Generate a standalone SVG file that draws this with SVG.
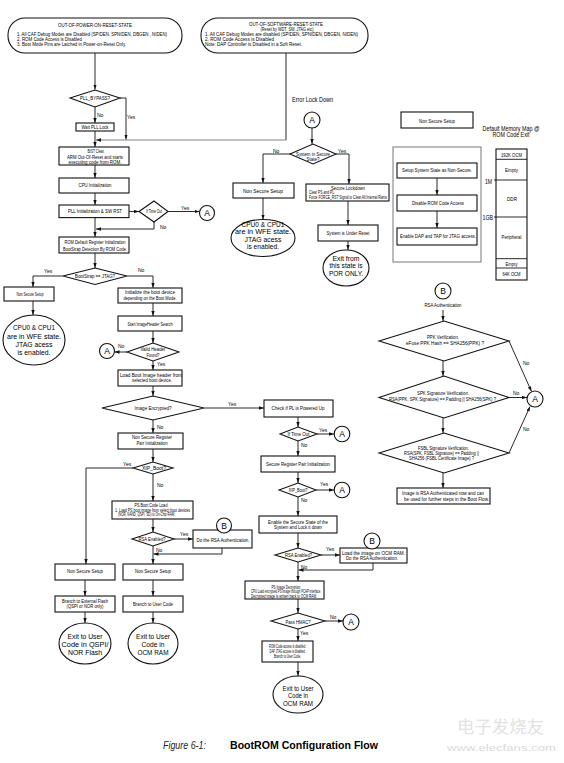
<svg xmlns="http://www.w3.org/2000/svg" width="564" height="763" viewBox="0 0 564 763">
<style>
.bx{fill:#fff;stroke:#111;stroke-width:1.1}
.gx{fill:none;stroke:#777;stroke-width:1}
.ln{fill:none;stroke:#111;stroke-width:0.9;marker-end:url(#ah)}
.pl{fill:none;stroke:#111;stroke-width:0.9}
text{font-family:"Liberation Sans",Arial,sans-serif;fill:#000}
.s{font-size:5px}
.xs{font-size:4.5px}
.m{font-size:5px;text-anchor:middle}
.mx{font-size:4.5px;text-anchor:middle}
.big{font-size:6.8px;text-anchor:middle}
.c{font-size:8.5px;text-anchor:middle}
.mm{font-size:6.5px;text-anchor:middle}
.wm1{font-family:"Noto Sans CJK SC",sans-serif;font-size:17px;fill:#e2e2e2}
.wm2{font-size:9px;fill:#dadada}
.cap1{font-size:10px;font-style:italic;fill:#222}
.cap2{font-size:10.5px;font-weight:bold}
</style>
<defs>
<marker id="ah" viewBox="0 0 6 4" refX="6" refY="2" markerWidth="5" markerHeight="3.6" orient="auto" markerUnits="userSpaceOnUse"><path d="M0,0 L6,2 L0,4 z" fill="#111"/></marker>
</defs>
<rect width="564" height="763" fill="#fff"/>

<g id="connectors">
<path class="ln" d="M95,53 V89.5"/>
<path class="ln" d="M95,107 V123"/>
<path class="ln" d="M95,131 V147"/>
<path class="ln" d="M120,98 H126 V139.5"/>
<path class="pl" d="M286,53 V140"/>
<path class="ln" style="stroke:#777" d="M286,140 H96"/>
<path class="ln" d="M95,165 V178"/>
<path class="ln" d="M95,193 V205"/>
<path class="ln" d="M129,211.5 H139"/>
<path class="ln" d="M168,211.5 H199.5"/>
<path class="ln" d="M154,222 V229 H96"/>
<path class="ln" d="M95,217.6 V237"/>
<path class="ln" d="M95,253 V268"/>
<path class="ln" d="M63,276 H33 V287"/>
<path class="ln" d="M127,276 H153 V288"/>
<path class="ln" d="M33,301 V315"/>
<path class="ln" d="M153,303 V316"/>
<path class="ln" d="M153,331 V343"/>
<path class="ln" d="M127,352 H114.5"/>
<path class="ln" d="M153,361 V370"/>
<path class="ln" d="M153,386 V396"/>
<path class="ln" d="M204,408 H264"/>
<path class="ln" d="M153,420 V433"/>
<path class="ln" d="M153,449 V462"/>
<path class="ln" d="M133,468 H86 V564"/>
<path class="ln" d="M153,474 V501"/>
<path class="ln" d="M153,519 V532"/>
<path class="ln" d="M174,539 H193"/>
<path class="ln" d="M222,548 V554 H153.5"/>
<path class="ln" d="M153,546 V564"/>
<path class="ln" d="M85,580 V596"/>
<path class="ln" d="M153,580 V596"/>
<path class="ln" d="M85,612 V623"/>
<path class="ln" d="M153,612 V623"/>
<path class="ln" d="M312,128 V144"/>
<path class="ln" d="M290,154 H263 V183"/>
<path class="ln" d="M336,154 H349 V184"/>
<path class="ln" d="M263,198 V219.7"/>
<path class="ln" d="M348,201 V225"/>
<path class="ln" d="M348,241 V250"/>
<path class="ln" d="M298,417 V427"/>
<path class="ln" d="M317,434 H334"/>
<path class="ln" d="M298,441 V456"/>
<path class="ln" d="M298,472 V483"/>
<path class="ln" d="M316,490 H334"/>
<path class="ln" d="M298,497 V516"/>
<path class="ln" d="M298,533 V548"/>
<path class="ln" d="M321,555 H340"/>
<path class="ln" d="M373,563 V570 H298.5"/>
<path class="ln" d="M298,562 V581"/>
<path class="ln" d="M298,599 V613"/>
<path class="ln" d="M325,621 H343"/>
<path class="ln" d="M298,629 V641"/>
<path class="ln" d="M298,662 V676"/>
<path class="ln" d="M437,178 V195"/>
<path class="ln" d="M437,211 V228"/>
<path class="ln" d="M443,310 V321"/>
<path class="ln" d="M443,361 V376"/>
<path class="ln" d="M509,341 L531.5,391.5"/>
<path class="ln" d="M509,397.5 H527"/>
<path class="ln" d="M443,418 V433"/>
<path class="ln" d="M509,453 L530,406.5"/>
<path class="ln" d="M443,473 V488"/>
</g>

<g id="labels">
<text class="s" x="97" y="117">No</text>
<text class="s" x="127" y="119">Yes</text>
<text class="s" x="181" y="210">Yes</text>
<text class="s" x="160" y="229">No</text>
<text class="s" x="44" y="273">Yes</text>
<text class="s" x="138" y="272">No</text>
<text class="s" x="118" y="348">No</text>
<text class="s" x="157" y="366">Yes</text>
<text class="s" x="228" y="406">Yes</text>
<text class="s" x="157" y="428.5">No</text>
<text class="s" x="123" y="466">Yes</text>
<text class="s" x="157" y="487">No</text>
<text class="s" x="180" y="536">Yes</text>
<text class="s" x="156" y="551.5">No</text>
<text class="s" x="273" y="152.5">No</text>
<text class="s" x="338" y="152.5">Yes</text>
<text class="s" x="319" y="432">Yes</text>
<text class="s" x="301" y="447">No</text>
<text class="s" x="320" y="486">Yes</text>
<text class="s" x="301" y="501.8">No</text>
<text class="s" x="326" y="551">Yes</text>
<text class="s" x="301" y="568.5">No</text>
<text class="s" x="330" y="619">No</text>
<text class="s" x="300" y="634.5">Yes</text>
<text class="s" x="523" y="365">No</text>
<text class="s" x="513" y="395">No</text>
<text class="s" x="523" y="431">No</text>
</g>

<g id="n-por">
<rect class="bx" x="8" y="18" width="174" height="35" rx="17"/>
<text class="m" x="95" y="27" textLength="74" lengthAdjust="spacingAndGlyphs">OUT-OF-POWER-ON-RESET-STATE</text>
<text class="s" x="17" y="36" textLength="150" lengthAdjust="spacingAndGlyphs">1. All CAF Debug Modes are Disabled (SPIDEN, SPNIDEN, DBGEN , NIDEN)</text>
<text class="s" x="17" y="40.8" textLength="65" lengthAdjust="spacingAndGlyphs">2. ROM Code Access is Disabled</text>
<text class="s" x="17" y="46" textLength="109" lengthAdjust="spacingAndGlyphs">3. Boot Mode Pins are Latched in Power-on-Reset Only.</text>
</g>
<g id="n-sr">
<rect class="bx" x="201" y="18" width="167" height="35" rx="17"/>
<text class="m" x="286" y="25.5" textLength="74" lengthAdjust="spacingAndGlyphs">OUT-OF-SOFTWARE-RESET-STATE</text>
<text class="m" x="287" y="31" textLength="53" lengthAdjust="spacingAndGlyphs">(Reset by WDT, SW, JTAG etc)</text>
<text class="s" x="205" y="36" textLength="153" lengthAdjust="spacingAndGlyphs">1. All CAF Debug Modes are disabled (SPIDEN, SPNIDEN, DBGEN, NIDEN)</text>
<text class="s" x="205" y="40.8" textLength="69" lengthAdjust="spacingAndGlyphs">2. ROM Code Access is Disabled</text>
<text class="s" x="205" y="46" textLength="97" lengthAdjust="spacingAndGlyphs">Note: DAP Controller is Disabled in a Soft Reset.</text>
</g>
<g id="n-pllbypass">
<polygon class="bx" points="70,98 95,90 120,98 95,107"/>
<text class="m" x="95" y="100" textLength="30" lengthAdjust="spacingAndGlyphs">PLL_BYPASS?</text>
</g>
<g id="n-wait">
<rect class="bx" x="76" y="123" width="38" height="8"/>
<text class="m" x="95" y="129" textLength="27" lengthAdjust="spacingAndGlyphs">Wait PLL Lock</text>
</g>
<g id="n-bist">
<rect class="bx" x="59" y="147" width="70" height="18"/>
<text class="m" x="96" y="153.2" textLength="17" lengthAdjust="spacingAndGlyphs">BIST Clear,</text>
<text class="m" x="95" y="158.7" textLength="56" lengthAdjust="spacingAndGlyphs">ARM Out-Of-Reset and starts</text>
<text class="m" x="95" y="164" textLength="53" lengthAdjust="spacingAndGlyphs">executing code from ROM.</text>
</g>
<g id="n-cpuinit">
<rect class="bx" x="59" y="178" width="70" height="15"/>
<text class="m" x="95" y="187" textLength="33" lengthAdjust="spacingAndGlyphs">CPU Initialization</text>
</g>
<g id="n-pllinit">
<rect class="bx" x="59" y="205" width="70" height="12.6"/>
<text class="m" x="95" y="213" textLength="54" lengthAdjust="spacingAndGlyphs">PLL Initialization &amp; SW RST</text>
</g>
<g id="n-timeout1">
<polygon class="bx" points="139,211.5 154,201 168,211.5 154,222"/>
<text class="m" x="154" y="213.3" textLength="16" lengthAdjust="spacingAndGlyphs">If Time Out</text>
</g>
<g id="n-a1">
<circle class="bx" cx="207" cy="213" r="7.5"/>
<text class="c" x="207" y="216">A</text>
</g>
<g id="n-romdef">
<rect class="bx" x="59" y="237" width="70" height="16"/>
<text class="m" x="95" y="244" textLength="61" lengthAdjust="spacingAndGlyphs">ROM Default Register Initialization</text>
<text class="m" x="95" y="250.5" textLength="64" lengthAdjust="spacingAndGlyphs">BootStrap Detection By ROM Code.</text>
</g>
<g id="n-bootstrap">
<polygon class="bx" points="63,276 95,268 127,276 95,284.5"/>
<text class="m" x="95" y="277.5" textLength="40" lengthAdjust="spacingAndGlyphs">BootStrap == JTAG?</text>
</g>
<g id="n-nss1">
<rect class="bx" x="4" y="287" width="50" height="14"/>
<text class="m" x="30" y="295.8" textLength="27" lengthAdjust="spacingAndGlyphs">Non Secure Setup</text>
</g>
<g id="n-wfe1">
<ellipse class="bx" cx="34" cy="340" rx="31" ry="25"/>
<text class="big" x="34" y="330" textLength="42" lengthAdjust="spacingAndGlyphs">CPU0 &amp; CPU1</text>
<text class="big" x="34" y="339" textLength="54" lengthAdjust="spacingAndGlyphs">are in WFE state.</text>
<text class="big" x="34" y="346.9" textLength="37" lengthAdjust="spacingAndGlyphs">JTAG acess</text>
<text class="big" x="34" y="354.5" textLength="33" lengthAdjust="spacingAndGlyphs">is enabled.</text>
</g>
<g id="n-init">
<rect class="bx" x="118" y="288" width="64" height="15"/>
<text class="m" x="150" y="293.5" textLength="50" lengthAdjust="spacingAndGlyphs">Initialize the boot device</text>
<text class="m" x="150" y="299.5" textLength="53" lengthAdjust="spacingAndGlyphs">depending on the Boot Mode.</text>
</g>
<g id="n-start">
<rect class="bx" x="118" y="316" width="64" height="15"/>
<text class="m" x="150" y="325.5" textLength="45" lengthAdjust="spacingAndGlyphs">Start ImageHeader Search</text>
</g>
<g id="n-valid">
<polygon class="bx" points="127,352 153,343 179,352 153,361"/>
<text class="m" x="153" y="350.5" textLength="25" lengthAdjust="spacingAndGlyphs">Valid Header</text>
<text class="m" x="153" y="356.5" textLength="13" lengthAdjust="spacingAndGlyphs">Found?</text>
</g>
<g id="n-a2">
<circle class="bx" cx="107" cy="351" r="7.5"/>
<text class="c" x="107" y="354">A</text>
</g>
<g id="n-loadhdr">
<rect class="bx" x="118" y="370" width="64" height="16"/>
<text class="m" x="151" y="376.5" textLength="62" lengthAdjust="spacingAndGlyphs">Load Boot Image header from</text>
<text class="m" x="152" y="382.3" textLength="40" lengthAdjust="spacingAndGlyphs">selected boot device.</text>
</g>
<g id="n-enc">
<polygon class="bx" points="102,408 153,396 204,408 153,420"/>
<text class="m" x="153" y="410" textLength="37" lengthAdjust="spacingAndGlyphs">Image Encrypted?</text>
</g>
<g id="n-nsreg">
<rect class="bx" x="118" y="433" width="65" height="16"/>
<text class="m" x="152" y="439.2" textLength="40" lengthAdjust="spacingAndGlyphs">Non Secure Register</text>
<text class="m" x="152" y="444.6" textLength="31" lengthAdjust="spacingAndGlyphs">Pair Initialization</text>
</g>
<g id="n-xip1">
<polygon class="bx" points="133,468 153,462 173,468 153,474"/>
<text class="m" x="154" y="470" textLength="24" lengthAdjust="spacingAndGlyphs">XIP_Boot?</text>
</g>
<g id="n-psload">
<rect class="bx" x="112" y="501" width="81" height="18"/>
<text class="m" x="151" y="506.5" textLength="33" lengthAdjust="spacingAndGlyphs">PS Boot Code Load</text>
<text class="xs" x="115" y="511.5" textLength="75" lengthAdjust="spacingAndGlyphs">1. Load PS boot image from select boot devices</text>
<text class="xs" x="118" y="516" textLength="57" lengthAdjust="spacingAndGlyphs">(NOR, NAND, QSPI, SD) to On-Chip RAM.</text>
</g>
<g id="n-rsa1">
<polygon class="bx" points="132,539 153,532 174,539 153,546"/>
<text class="m" x="152" y="541" textLength="27" lengthAdjust="spacingAndGlyphs">RSA Enabled?</text>
</g>
<g id="n-dorsa">
<rect class="bx" x="193" y="530" width="59" height="18"/>
<text class="m" x="223" y="541.5" textLength="53" lengthAdjust="spacingAndGlyphs">Do the RSA Authentication.</text>
</g>
<g id="n-b1">
<circle class="bx" cx="224" cy="525.5" r="7.5"/>
<text class="c" x="224" y="528.5">B</text>
</g>
<g id="n-nss2">
<rect class="bx" x="55" y="564" width="60" height="16"/>
<text class="m" x="85" y="572.5" textLength="36" lengthAdjust="spacingAndGlyphs">Non Secure Setup</text>
</g>
<g id="n-nss3">
<rect class="bx" x="123" y="564" width="60" height="16"/>
<text class="m" x="153" y="572.5" textLength="36" lengthAdjust="spacingAndGlyphs">Non Secure Setup</text>
</g>
<g id="n-brext">
<rect class="bx" x="55" y="596" width="60" height="16"/>
<text class="m" x="85" y="602.5" textLength="46" lengthAdjust="spacingAndGlyphs">Branch to External Flash</text>
<text class="m" x="85" y="608" textLength="37" lengthAdjust="spacingAndGlyphs">(QSPI or NOR only)</text>
</g>
<g id="n-bruser">
<rect class="bx" x="123" y="596" width="60" height="16"/>
<text class="m" x="153" y="605.5" textLength="40" lengthAdjust="spacingAndGlyphs">Branch to User Code</text>
</g>
<g id="n-exitqspi">
<ellipse class="bx" cx="85" cy="643.5" rx="26" ry="20.5"/>
<text class="big" x="85" y="638.7" textLength="35" lengthAdjust="spacingAndGlyphs">Exit to User</text>
<text class="big" x="85" y="647" textLength="47" lengthAdjust="spacingAndGlyphs">Code in QSPI/</text>
<text class="big" x="85" y="655.2" textLength="34" lengthAdjust="spacingAndGlyphs">NOR Flash</text>
</g>
<g id="n-exitocm1">
<ellipse class="bx" cx="153" cy="643.5" rx="25" ry="20.5"/>
<text class="big" x="153" y="638.7" textLength="34" lengthAdjust="spacingAndGlyphs">Exit to User</text>
<text class="big" x="153" y="647" textLength="23" lengthAdjust="spacingAndGlyphs">Code in</text>
<text class="big" x="153" y="655.2" textLength="31" lengthAdjust="spacingAndGlyphs">OCM RAM</text>
</g>

<g id="n-errtitle">
<text x="292" y="102" font-size="7" textLength="41" lengthAdjust="spacingAndGlyphs">Error Lock Down</text>
</g>
<g id="n-a3">
<circle class="bx" cx="312" cy="120" r="8"/>
<text class="c" x="312" y="123">A</text>
</g>
<g id="n-sis">
<polygon class="bx" points="290,154 313,144 336,154 313,164"/>
<text class="m" x="313" y="155.5" textLength="34" lengthAdjust="spacingAndGlyphs">System in Secure</text>
<text class="m" x="313" y="161" textLength="13" lengthAdjust="spacingAndGlyphs">State?</text>
</g>
<g id="n-nssmid">
<rect class="bx" x="233" y="183" width="61" height="15"/>
<text class="m" x="263" y="192.5" textLength="40" lengthAdjust="spacingAndGlyphs">Non Secure Setup</text>
</g>
<g id="n-wfe2">
<ellipse class="bx" cx="263" cy="238" rx="32" ry="18.5"/>
<text class="big" x="263" y="227" textLength="43" lengthAdjust="spacingAndGlyphs">CPU0 &amp; CPU1</text>
<text class="big" x="263" y="234.3" textLength="56" lengthAdjust="spacingAndGlyphs">are in WFE state.</text>
<text class="big" x="263" y="241.6" textLength="37" lengthAdjust="spacingAndGlyphs">JTAG acess</text>
<text class="big" x="263" y="248.9" textLength="32" lengthAdjust="spacingAndGlyphs">is enabled.</text>
</g>
<g id="n-seclock">
<rect class="bx" x="306" y="184" width="83" height="17"/>
<text class="m" x="348" y="190" textLength="34" lengthAdjust="spacingAndGlyphs">Secure Lockdown</text>
<text class="xs" x="309" y="194.3" textLength="26" lengthAdjust="spacingAndGlyphs">Clear PS and PL.</text>
<text class="xs" x="309" y="198.8" textLength="78" lengthAdjust="spacingAndGlyphs">Force FORCE_RST Signal to Clear All Internal Rams</text>
</g>
<g id="n-underreset">
<rect class="bx" x="318" y="225" width="60" height="16"/>
<text class="m" x="348" y="234.8" textLength="43" lengthAdjust="spacingAndGlyphs">System is Under Reset</text>
</g>
<g id="n-exitpor">
<ellipse class="bx" cx="346" cy="268" rx="23" ry="18"/>
<text class="big" x="346" y="261" textLength="27" lengthAdjust="spacingAndGlyphs">Exit from</text>
<text class="big" x="346" y="268.4" textLength="33" lengthAdjust="spacingAndGlyphs">this state is</text>
<text class="big" x="346" y="275.8" textLength="34" lengthAdjust="spacingAndGlyphs">POR ONLY.</text>
</g>
<g id="n-checkpl">
<rect class="bx" x="264" y="400" width="69" height="17"/>
<text class="m" x="298" y="410" textLength="53" lengthAdjust="spacingAndGlyphs">Check if PL is Powered Up</text>
</g>
<g id="n-timeout2">
<polygon class="bx" points="280,434 298,427 317,434 298,441"/>
<text class="m" x="298.5" y="436" textLength="22" lengthAdjust="spacingAndGlyphs">If Time Out</text>
</g>
<g id="n-a4">
<circle class="bx" cx="342" cy="434" r="7.8"/>
<text class="c" x="342" y="437">A</text>
</g>
<g id="n-secreg">
<rect class="bx" x="261" y="456" width="74" height="16"/>
<text class="m" x="298" y="466" textLength="64" lengthAdjust="spacingAndGlyphs">Secure Register Pair Initialization</text>
</g>
<g id="n-xip2">
<polygon class="bx" points="279,490 298,483 316,490 298,497"/>
<text class="m" x="298" y="492" textLength="19" lengthAdjust="spacingAndGlyphs">XIP_Boot?</text>
</g>
<g id="n-a5">
<circle class="bx" cx="342" cy="490" r="7.8"/>
<text class="c" x="342" y="493">A</text>
</g>
<g id="n-enable">
<rect class="bx" x="259" y="516" width="78" height="17"/>
<text class="m" x="298" y="523.8" textLength="60" lengthAdjust="spacingAndGlyphs">Enable the Secure State of the</text>
<text class="m" x="298" y="529.2" textLength="48" lengthAdjust="spacingAndGlyphs">System and Lock it down</text>
</g>
<g id="n-rsa2">
<polygon class="bx" points="275,555 298,548 321,555 298,562"/>
<text class="m" x="298.5" y="556.8" textLength="27" lengthAdjust="spacingAndGlyphs">RSA Enabled?</text>
</g>
<g id="n-loadocm">
<rect class="bx" x="340" y="548" width="67" height="15"/>
<text class="m" x="373.5" y="554.5" textLength="63" lengthAdjust="spacingAndGlyphs">Load the image on OCM RAM.</text>
<text class="m" x="372" y="559.8" textLength="52" lengthAdjust="spacingAndGlyphs">Do the RSA Authentication.</text>
</g>
<g id="n-b2">
<circle class="bx" cx="372" cy="541" r="8"/>
<text class="c" x="372" y="544">B</text>
</g>
<g id="n-psdec">
<rect class="bx" x="245" y="581" width="79" height="18"/>
<text class="m" x="286" y="588.5" textLength="29" lengthAdjust="spacingAndGlyphs">PS Image Decryption</text>
<text class="xs" x="251" y="593" textLength="70" lengthAdjust="spacingAndGlyphs">CPU Load encrypted PS Image through PCAP interface.</text>
<text class="xs" x="251" y="597.6" textLength="66" lengthAdjust="spacingAndGlyphs">Decrypted image is written back to OCM RAM.</text>
</g>
<g id="n-hmac">
<polygon class="bx" points="271,621 298,613 325,621 298,629"/>
<text class="m" x="298" y="623.5" textLength="25" lengthAdjust="spacingAndGlyphs">Pass HMAC?</text>
</g>
<g id="n-a6">
<circle class="bx" cx="351" cy="622" r="8"/>
<text class="c" x="351" y="625">A</text>
</g>
<g id="n-romcode">
<rect class="bx" x="262" y="641" width="51" height="21"/>
<text class="mx" x="287.5" y="648.3" textLength="37" lengthAdjust="spacingAndGlyphs">ROM Code access is disabled.</text>
<text class="mx" x="287.5" y="653" textLength="36" lengthAdjust="spacingAndGlyphs">DAP JTAG access is disabled.</text>
<text class="mx" x="287.5" y="657.7" textLength="27" lengthAdjust="spacingAndGlyphs">Branch to User Code.</text>
</g>
<g id="n-exitocm2">
<ellipse class="bx" cx="298" cy="694.5" rx="25" ry="18.5"/>
<text class="big" x="298" y="690.8" textLength="31" lengthAdjust="spacingAndGlyphs">Exit to User</text>
<text class="big" x="298" y="698.2" textLength="20" lengthAdjust="spacingAndGlyphs">Code in</text>
<text class="big" x="298" y="705.6" textLength="30" lengthAdjust="spacingAndGlyphs">OCM RAM</text>
</g>

<g id="n-nssright">
<rect class="bx" x="401" y="112" width="72" height="16"/>
<text class="m" x="437" y="122.5" textLength="36" lengthAdjust="spacingAndGlyphs">Non Secure Setup</text>
</g>
<g id="n-mmtitle">
<text class="mm" x="511" y="130.5" textLength="57" lengthAdjust="spacingAndGlyphs">Default Memory Map @</text>
<text class="mm" x="511" y="137" textLength="37" lengthAdjust="spacingAndGlyphs">ROM Code Exit</text>
</g>
<g id="n-nssdetail">
<rect class="gx" x="393" y="147" width="88" height="115"/>
</g>
<g id="n-setup">
<rect class="bx" x="397" y="163" width="80" height="15"/>
<text class="m" x="437" y="171.8" textLength="70" lengthAdjust="spacingAndGlyphs">Setup System State as Non-Secure.</text>
</g>
<g id="n-disrom">
<rect class="bx" x="397" y="195" width="80" height="16"/>
<text class="m" x="438" y="204.8" textLength="52" lengthAdjust="spacingAndGlyphs">Disable ROM Code Access</text>
</g>
<g id="n-endap">
<rect class="bx" x="397" y="228" width="80" height="17"/>
<text class="m" x="438" y="237.5" textLength="76" lengthAdjust="spacingAndGlyphs">Enable DAP and TAP for JTAG access.</text>
</g>
<g id="n-memmap">
<rect class="bx" x="496" y="149" width="31" height="131"/>
<path class="pl" d="M496,159.3 H527 M494,180 H527 M494,217 H527 M496,258.7 H527 M496,268 H527"/>
<text class="m" x="511.5" y="156.5" textLength="21" lengthAdjust="spacingAndGlyphs">192K OCM</text>
<text class="m" x="511.5" y="172" textLength="13" lengthAdjust="spacingAndGlyphs">Empty</text>
<text class="m" x="512" y="200.5" textLength="10" lengthAdjust="spacingAndGlyphs">DDR</text>
<text class="m" x="511.5" y="239" textLength="20" lengthAdjust="spacingAndGlyphs">Peripheral</text>
<text class="m" x="511.5" y="265.5" textLength="12" lengthAdjust="spacingAndGlyphs">Empty</text>
<text class="m" x="511.5" y="276" textLength="18" lengthAdjust="spacingAndGlyphs">64K OCM</text>
<text x="485" y="184" font-size="6.5" textLength="7" lengthAdjust="spacingAndGlyphs">1M</text>
<text x="482.5" y="219.6" font-size="6.5" textLength="10.5" lengthAdjust="spacingAndGlyphs">1GB</text>
</g>
<g id="n-b3">
<circle class="bx" cx="443" cy="291" r="8"/>
<text class="c" x="443" y="294">B</text>
<text class="m" x="443" y="307" textLength="37" lengthAdjust="spacingAndGlyphs">RSA Authentication</text>
</g>
<g id="n-ppk">
<polygon class="bx" points="379,341 444,321 509,341 444,361"/>
<text class="m" x="443" y="338.8" textLength="32" lengthAdjust="spacingAndGlyphs">PPK Verification.</text>
<text class="m" x="445" y="344.8" textLength="78" lengthAdjust="spacingAndGlyphs">eFuse PPK Hash == SHA256(PPK) ?</text>
</g>
<g id="n-spk">
<polygon class="bx" points="379,397.5 444,376 509,397.5 444,418"/>
<text class="m" x="443" y="395" textLength="52" lengthAdjust="spacingAndGlyphs">SPK Signature Verification.</text>
<text class="m" x="442.5" y="401" textLength="107" lengthAdjust="spacingAndGlyphs">RSA(PPK, SPK Signature) == Padding || SHA256(SPK) ?</text>
</g>
<g id="n-a7">
<circle class="bx" cx="535" cy="399" r="8"/>
<text class="c" x="535" y="402">A</text>
</g>
<g id="n-fsbl">
<polygon class="bx" points="379,453 444,433 509,453 444,473"/>
<text class="m" x="443.5" y="449.5" textLength="51" lengthAdjust="spacingAndGlyphs">FSBL Signature Verification.</text>
<text class="m" x="441.5" y="454.5" textLength="75" lengthAdjust="spacingAndGlyphs">RSA(SPK, FSBL Signature) == Padding ||</text>
<text class="m" x="441.5" y="459.5" textLength="65" lengthAdjust="spacingAndGlyphs">SHA256 (FSBL Certificate Image) ?</text>
</g>
<g id="n-rsadone">
<rect class="bx" x="397" y="488" width="93" height="16"/>
<text class="m" x="443" y="494.5" textLength="82" lengthAdjust="spacingAndGlyphs">Image is RSA Authenticated now and can</text>
<text class="m" x="446.5" y="500.5" textLength="85" lengthAdjust="spacingAndGlyphs">be used for further steps in the Boot Flow.</text>
</g>

<g id="caption">
<text class="cap1" x="163" y="749" textLength="43" lengthAdjust="spacingAndGlyphs">Figure 6-1:</text>
<text class="cap2" x="230" y="749" textLength="148" lengthAdjust="spacingAndGlyphs">BootROM Configuration Flow</text>
</g>
<g id="watermark">
<text class="wm1" x="457" y="733" textLength="87" lengthAdjust="spacingAndGlyphs">电子发烧友</text>
<text class="wm2" x="447" y="751" textLength="109" lengthAdjust="spacingAndGlyphs">www.elecfans.com</text>
</g>
</svg>
